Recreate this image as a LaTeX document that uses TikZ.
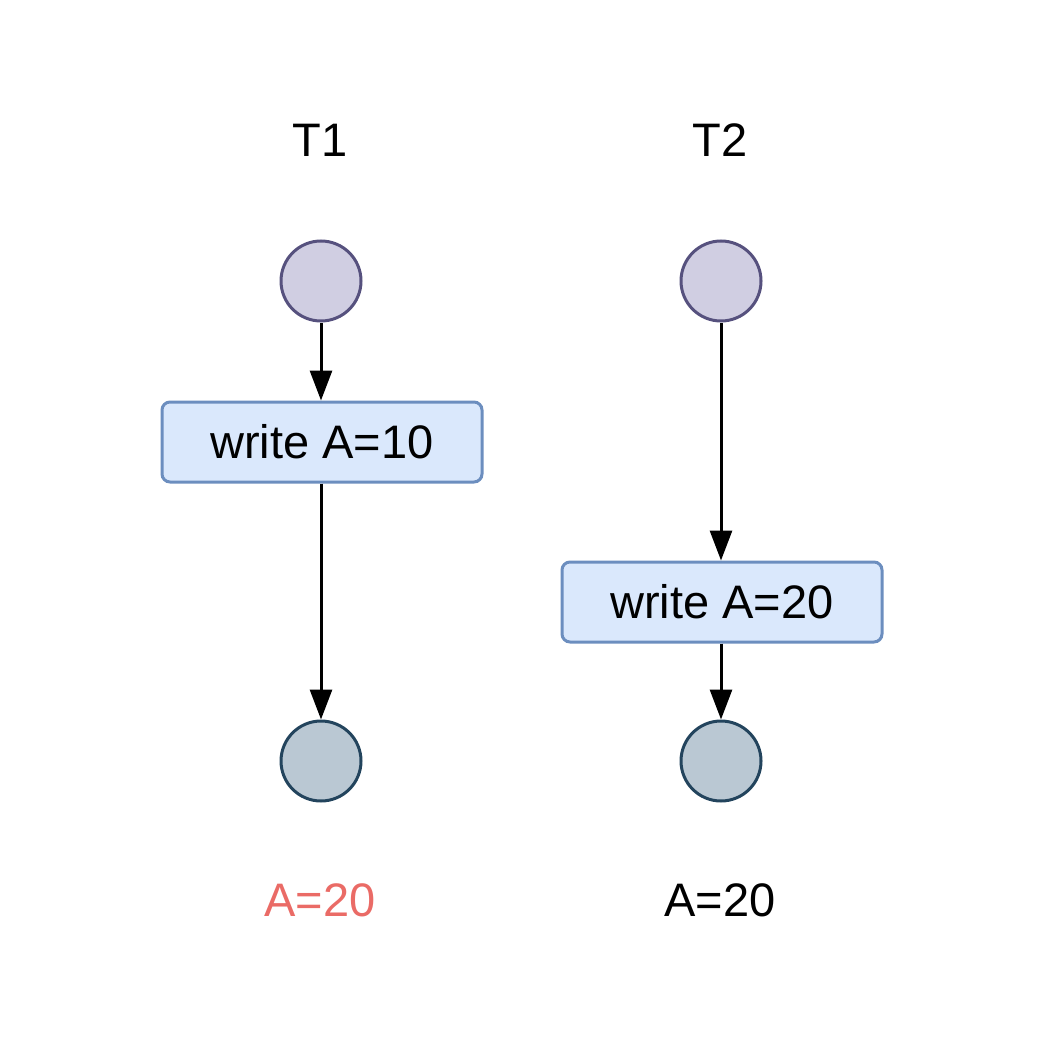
\documentclass[tikz,border=0pt]{standalone}
\usepackage{fontspec}
\setmainfont{Liberation Sans}
\usetikzlibrary{arrows.meta}
\definecolor{startfill}{HTML}{D0CEE2}
\definecolor{startdraw}{HTML}{56517E}
\definecolor{endfill}{HTML}{BAC8D3}
\definecolor{enddraw}{HTML}{23445D}
\definecolor{boxfill}{HTML}{DAE8FC}
\definecolor{boxdraw}{HTML}{6C8EBF}
\definecolor{redtext}{HTML}{EA6B66}
\begin{document}
\begin{tikzpicture}[x=1pt,y=-1pt,
  txt/.style={font=\fontsize{47}{56}\selectfont, inner sep=0pt},
  startc/.style={circle, minimum size=80pt, inner sep=0pt, fill=startfill, draw=startdraw, line width=3pt},
  endc/.style={circle, minimum size=80pt, inner sep=0pt, fill=endfill, draw=enddraw, line width=3pt},
  opbox/.style={rectangle, rounded corners=8pt, minimum width=320pt, minimum height=80pt, inner sep=0pt, fill=boxfill, draw=boxdraw, line width=3pt, font=\fontsize{47}{56}\selectfont},
  conn/.style={line width=3pt, -{Triangle[length=30pt,width=22pt]}}
]
\useasboundingbox (0,0) rectangle (1040,1040);
\node[txt] (t1) at (320,140) {T1};
\node[txt] (t2) at (720,140) {T2};
\node[startc] (s1) at (321,281) {};
\node[startc] (s2) at (721,281) {};
\node[opbox] (w1) at (322,442) {write A=10};
\node[opbox] (w2) at (722,602) {write A=20};
\node[endc] (e1) at (321,761) {};
\node[endc] (e2) at (721,761) {};
\node[txt, text=redtext] (r1) at (320,900) {A=20};
\node[txt] (r2) at (720,900) {A=20};
\draw[conn] (s1) -- (s1 |- w1.north);
\draw[conn] (w1.south -| e1) -- (e1);
\draw[conn] (s2) -- (s2 |- w2.north);
\draw[conn] (w2.south -| e2) -- (e2);
\end{tikzpicture}
\end{document}
